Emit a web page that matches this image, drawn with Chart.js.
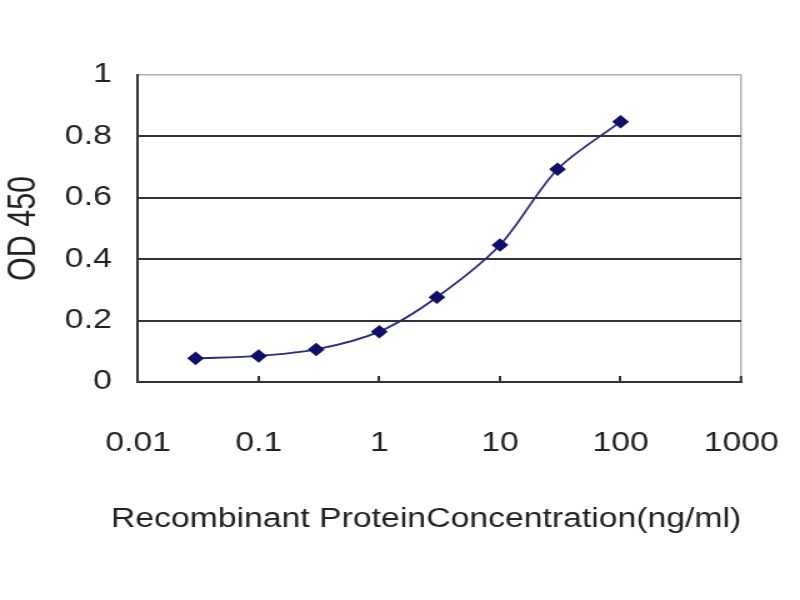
<!DOCTYPE html>
<html>
<head>
<meta charset="utf-8">
<script src="https://cdn.jsdelivr.net/npm/chart.js@4.4.0/dist/chart.umd.min.js"></script>
<style>
  html, body { margin: 0; padding: 0; background: #fff; }
  /* the reference is stretched sideways, so draw narrower and widen it */
  #wrap { width: 640px; height: 600px; transform: scaleX(1.25); transform-origin: 0 0; }
</style>
</head>
<body>
<div id="wrap"><canvas id="chart"></canvas></div>
<script>
const concentrations = [0.03, 0.1, 0.3, 1, 3, 10, 30, 100];
const odValues = [0.077, 0.085, 0.106, 0.164, 0.276, 0.446, 0.693, 0.848];
const xTickValues = [0.01, 0.1, 1, 10, 100, 1000];
const xTickLabels = ["0.01", "0.1", "1", "10", "100", "1000"];
const yTickLabels = ["0", "0.2", "0.4", "0.6", "0.8", "1"];

const family = "'Liberation Sans', Arial, sans-serif";
const tickFont = {family: family, size: 27};
const textColor = "#222";

new Chart(document.getElementById("chart"), {
  type: "line",
  data: {
    datasets: [
      {
        label: "OD 450",
        data: concentrations.map((x, i) => ({x: x, y: odValues[i]})),
        borderColor: "#2b2b80",
        borderWidth: 1.8,
        backgroundColor: "#10106a",
        pointBackgroundColor: "#10106a",
        pointBorderColor: "#10106a",
        pointStyle: "rectRot",
        pointRadius: 5.5,
        tension: 0.3,
        fill: false,
      },
    ],
  },
  options: {
    responsive: true,
    maintainAspectRatio: false,
    animation: false,
    layout: {
      padding: {top: 75, left: 1.6, right: 47, bottom: 63.8},
    },
    plugins: {
      legend: {display: false},
      tooltip: {enabled: false},
      // x caption as chart title: the axis title gets squeezed to the plot width
      title: {
        display: true,
        position: "bottom",
        align: "end",
        text: "Recombinant ProteinConcentration(ng/ml)",
        color: textColor,
        font: {family: family, size: 27, weight: "normal"},
        padding: 0,
      },
    },
    scales: {
      x: {
        type: "logarithmic",
        min: 0.01,
        max: 1000,
        afterBuildTicks: (scale) => {
          scale.ticks = xTickValues.map((v) => ({value: v}));
        },
        afterFit: (scale) => {
          scale.height = 121.8;
        },
        ticks: {
          autoSkip: false,
          maxRotation: 0,
          padding: 16,
          color: textColor,
          // tall line box pushes the labels down without widening the side padding
          font: {family: family, size: 27, lineHeight: 3.8},
          callback: (value, index) => xTickLabels[index],
        },
        grid: {
          drawTicks: true,
          tickLength: -6,
          tickColor: "#333",
          tickWidth: 2,
          lineWidth: (ctx) => (ctx.index === xTickValues.length - 1 ? 1.5 : 2),
          color: (ctx) => {
            if (ctx.index === xTickValues.length - 1) return "#b0b0b0";
            if (ctx.index === 0) return "#333";
            return "rgba(0,0,0,0)";
          },
        },
        border: {display: true, color: "#333", width: 2},
      },
      y: {
        min: 0,
        max: 1,
        afterFit: (scale) => {
          scale.width = 108.8;
        },
        ticks: {
          stepSize: 0.2,
          padding: 21,
          color: textColor,
          font: tickFont,
          callback: (value, index) => yTickLabels[index],
        },
        grid: {
          drawTicks: false,
          lineWidth: (ctx) => (ctx.index === yTickLabels.length - 1 ? 1.5 : 2),
          color: (ctx) => (ctx.index === yTickLabels.length - 1 ? "#b0b0b0" : "#333"),
        },
        border: {display: true, color: "#333", width: 2},
        title: {
          display: true,
          text: "OD 450",
          color: textColor,
          font: {family: family, size: 30.5},
          padding: 0,
        },
      },
    },
  },
});
</script>
</body>
</html>
